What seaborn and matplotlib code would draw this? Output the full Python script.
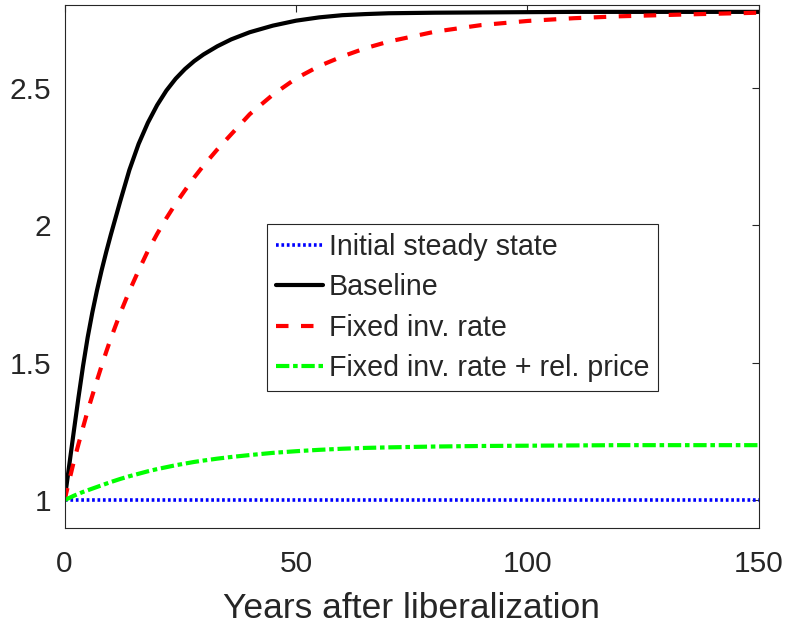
import matplotlib
matplotlib.use("Agg")
import matplotlib.pyplot as plt
import seaborn as sns
import pandas as pd

# Years after liberalization at which each path is tabulated
years = [0, 1, 2, 3, 4, 5, 6, 7, 8, 9, 10, 12, 14, 16, 18, 20, 22, 24, 26, 28,
         30, 33, 36, 40, 45, 50, 55, 60, 65, 70, 80, 90, 100, 110, 120, 135, 150]

initial_ss = [1.000] * len(years)

baseline = [1.000, 1.125, 1.250, 1.372, 1.488, 1.592, 1.682, 1.762, 1.835, 1.902,
            1.965, 2.085, 2.200, 2.295, 2.372, 2.436, 2.489, 2.532, 2.567, 2.596,
            2.620, 2.650, 2.675, 2.701, 2.725, 2.743, 2.755, 2.763, 2.767, 2.770,
            2.772, 2.773, 2.774, 2.775, 2.775, 2.775, 2.775]

fixed_inv = [1.000, 1.070, 1.140, 1.203, 1.265, 1.325, 1.380, 1.435, 1.488, 1.539,
             1.588, 1.678, 1.760, 1.835, 1.906, 1.968, 2.025, 2.078, 2.126, 2.173,
             2.216, 2.275, 2.330, 2.403, 2.474, 2.533, 2.578, 2.613, 2.643, 2.667,
             2.703, 2.727, 2.742, 2.752, 2.759, 2.766, 2.772]

fixed_inv_price = [1.000, 1.008, 1.016, 1.023, 1.030, 1.036, 1.042, 1.048, 1.054, 1.060,
                   1.066, 1.077, 1.087, 1.096, 1.105, 1.113, 1.120, 1.127, 1.133, 1.139,
                   1.144, 1.151, 1.157, 1.164, 1.172, 1.178, 1.183, 1.187, 1.190, 1.192,
                   1.195, 1.197, 1.198, 1.199, 1.200, 1.200, 1.200]

labels = ["Initial steady state", "Baseline", "Fixed inv. rate",
          "Fixed inv. rate + rel. price"]
x_ticks = [0, 50, 100, 150]
y_ticks = [1, 1.5, 2, 2.5]

sns.set_theme(style="white")
plt.rcParams["font.family"] = ["Liberation Sans", "DejaVu Sans"]

fig = plt.figure(figsize=(7.87, 6.25), dpi=100)
ax = fig.add_axes([0.082, 0.1557, 0.8824, 0.8363])

series = [
    (initial_ss, labels[0], (0, 0, 1), (0, (0.75, 0.75)), 2.6),
    (baseline, labels[1], "black", "-", 3.0),
    (fixed_inv, labels[2], (1, 0, 0), (0, (3.0, 3.0)), 3.0),
    (fixed_inv_price, labels[3], (0, 1, 0), (0, (3.2, 0.9, 1.1, 0.9)), 3.0),
]

for vals, lab, col, ls, lw in series:
    df = pd.DataFrame({"year": years, "value": vals})
    sns.lineplot(data=df, x="year", y="value", ax=ax, color=col,
                 linestyle=ls, linewidth=lw, label=lab)

for line in ax.get_lines():
    line.set_solid_joinstyle("round")
    line.set_dash_joinstyle("round")

ax.set_xlim(0, 150)
ax.set_ylim(0.9, 2.8)
ax.set_xticks(x_ticks)
ax.set_xticklabels([str(t) for t in x_ticks])
ax.set_yticks(y_ticks)
ax.set_yticklabels(["1", "1.5", "2", "2.5"])

axis_gray = (0.15, 0.15, 0.15)
for sp in ax.spines.values():
    sp.set_visible(True)
    sp.set_color(axis_gray)
    sp.set_linewidth(0.8)

ax.tick_params(axis="both", which="major", direction="in", length=5,
               width=0.8, color=axis_gray, labelcolor=axis_gray,
               labelsize=21.5, top=True, right=True)
ax.tick_params(axis="x", pad=16)
ax.tick_params(axis="y", pad=9.5)

ax.set_xlabel("Years after liberalization", fontsize=25.5, color=axis_gray,
              labelpad=10)
ax.set_ylabel("")

leg = ax.legend(loc="upper left", bbox_to_anchor=(0.292, 0.581),
                borderaxespad=0, fontsize=20.6, frameon=True, fancybox=False,
                handlelength=1.63, handletextpad=0.23, borderpad=0.3,
                labelspacing=0.44)
leg.get_frame().set_edgecolor(axis_gray)
leg.get_frame().set_linewidth(0.8)
leg.get_frame().set_facecolor("white")
leg.get_frame().set_alpha(1)

fig.savefig("out.png", dpi=100)
